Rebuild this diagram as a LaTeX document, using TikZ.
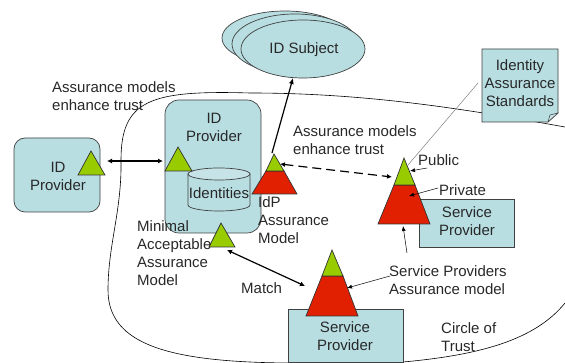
\documentclass[tikz,border=0pt]{standalone}
\usepackage{fontspec}
\setmainfont{Liberation Sans}
\usetikzlibrary{arrows.meta,shapes.geometric}
\definecolor{boxblue}{RGB}{184,222,226}
\definecolor{lidblue}{RGB}{198,228,232}
\definecolor{pubgreen}{RGB}{153,204,0}
\definecolor{privred}{RGB}{224,32,0}
\definecolor{textgray}{RGB}{40,40,40}
\tikzset{
    box/.style={draw=black!75,fill=boxblue,line width=0.7pt},
    lbl/.style={anchor=north west,align=left,inner sep=0pt,font=\fontsize{15}{18}\selectfont,text=textgray},
    ctr/.style={align=center,inner sep=0pt,font=\fontsize{15}{18}\selectfont,text=textgray},
    tri/.style={draw=black!80,line width=0.7pt},
    link/.style={{Latex[length=5pt,width=5pt]}-{Latex[length=5pt,width=5pt]},line width=1.2pt},
    note/.style={-{Latex[length=5pt,width=4pt]},line width=0.5pt},
}
\begin{document}
\begin{tikzpicture}[x=1pt,y=-1pt]
\useasboundingbox (0,0) rectangle (565,363);
% circle of trust
\draw[line width=0.6pt] (565,127) .. controls (470,110) and (370,93) .. (250,93)
    .. controls (150,90) and (121,100) .. (121,160)
    .. controls (122,210) and (108,245) .. (108,290)
    .. controls (108,345) and (170,362) .. (288,363)
    -- (403,362) .. controls (480,355) and (535,340) .. (565,303);
% standards note
\draw[box] (482,49) -- (558,49) -- (558,113) -- (548,122) -- (482,122) -- cycle;
\draw[draw=black!75,fill=lidblue,line width=0.5pt] (548,122) -- (550,115) -- (558,113) -- cycle;
\node[ctr] (standards) at (520,83) {Identity\\Assurance\\Standards};
% subject ellipses
\foreach \cx/\cy/\w/\h in {285/38/126/54,295/44/126/60}{
    \node[box,ellipse,minimum width=\w pt,minimum height=\h pt,inner sep=0pt] at (\cx,\cy) {};
}
\node[box,ellipse,minimum width=124pt,minimum height=58pt,inner sep=0pt] (subject) at (303,49) {};
\node[ctr] (subjectlabel) at (304,50) {ID Subject};
\coordinate (subjectlink) at (293,78);
% left provider
\draw[box,rounded corners=11pt] (14,138) rectangle (100,212);
\node[ctr] (leftidp) at (58,176) {ID\\Provider};
\draw[tri,fill=pubgreen] (91,151) -- (105,175) -- (78,175) -- cycle;
\coordinate (leftlink) at (107,161);
% middle provider
\draw[box,rounded corners=14pt] (165,100) rectangle (261,233);
\node[ctr] (midlabel) at (214,127) {ID\\Provider};
\draw[box] (188,174) -- (188,205) arc[start angle=180,end angle=360,x radius=31pt,y radius=6pt]
    -- (250,174) -- cycle;
\draw[draw=black!75,fill=lidblue,line width=0.7pt] (219,174) ellipse [x radius=31pt,y radius=6pt];
\node[ctr] (identities) at (219,193) {Identities};
\draw[tri,fill=pubgreen] (178,147) -- (192,171) -- (165,171) -- cycle;
\coordinate (midlink) at (163,161);
\draw[tri,fill=pubgreen] (221,223) -- (235,247) -- (209,247) -- cycle;
\coordinate (minlink) at (227,250);
% idp pyramid
\draw[tri,fill=privred] (266,171) -- (284,171) -- (297,194) -- (252,194) -- cycle;
\draw[tri,fill=pubgreen] (274,154) -- (284,171) -- (266,171) -- cycle;
\coordinate (idptop) at (272,153);
\coordinate (idpleft) at (280,164);
% right provider
\draw[box] (419,199) rectangle (514,247);
\node[ctr] (rightsp) at (467,221) {Service\\Provider};
\draw[tri,fill=privred] (394,185) -- (415,185) -- (430,224) -- (378,224) -- cycle;
\draw[tri,fill=pubgreen] (404,158) -- (415,185) -- (394,185) -- cycle;
\coordinate (pubtip) at (408,165);
\coordinate (rightdash) at (392,177);
% bottom provider
\draw[box] (288,309) rectangle (403,362);
\node[ctr] (bottomsp) at (345,336) {Service\\Provider};
\draw[tri,fill=privred] (322,276) -- (343,276) -- (358,316) -- (306,316) -- cycle;
\draw[tri,fill=pubgreen] (332,250) -- (343,276) -- (322,276) -- cycle;
\coordinate (matchend) at (305,286);
% labels
\node[lbl] (assure) at (52,81) {Assurance models\\enhance trust};
\node[lbl] (assuretwo) at (293,125) {Assurance models\\enhance trust};
\node[lbl] (public) at (418,154) {Public};
\node[lbl] (private) at (439,184) {Private};
\node[lbl] (idpmodel) at (258,196) {IdP\\Assurance\\Model};
\node[lbl] (minimal) at (137,220) {Minimal\\Acceptable\\Assurance\\Model};
\node[lbl] (match) at (241,282) {Match};
\node[lbl] (spmodel) at (389,265) {Service Providers\\Assurance model};
\node[lbl] (circle) at (441,322) {Circle of\\Trust};
% connectors
\coordinate (standardsout) at (478,83);
\coordinate (pubfrom) at (427,168);
\coordinate (pubto) at (410,171);
\coordinate (privfrom) at (438,188);
\coordinate (privto) at (409,196);
\coordinate (spfrom) at (407,253);
\coordinate (spto) at (403,226);
\coordinate (spbfrom) at (390,276);
\coordinate (spbto) at (347,288);
\draw[link] (leftlink) -- (midlink);
\draw[-{Latex[length=6pt,width=5pt]},line width=1.2pt] (idptop) -- (subjectlink);
\draw[link,dash pattern=on 9pt off 5pt] (idpleft) -- (rightdash);
\draw[link] (minlink) -- (matchend);
\draw[gray,line width=0.5pt] (standardsout) -- (pubtip);
\draw[note] (pubfrom) -- (pubto);
\draw[note] (privfrom) -- (privto);
\draw[note] (spfrom) -- (spto);
\draw[note] (spbfrom) -- (spbto);
\end{tikzpicture}
\end{document}
